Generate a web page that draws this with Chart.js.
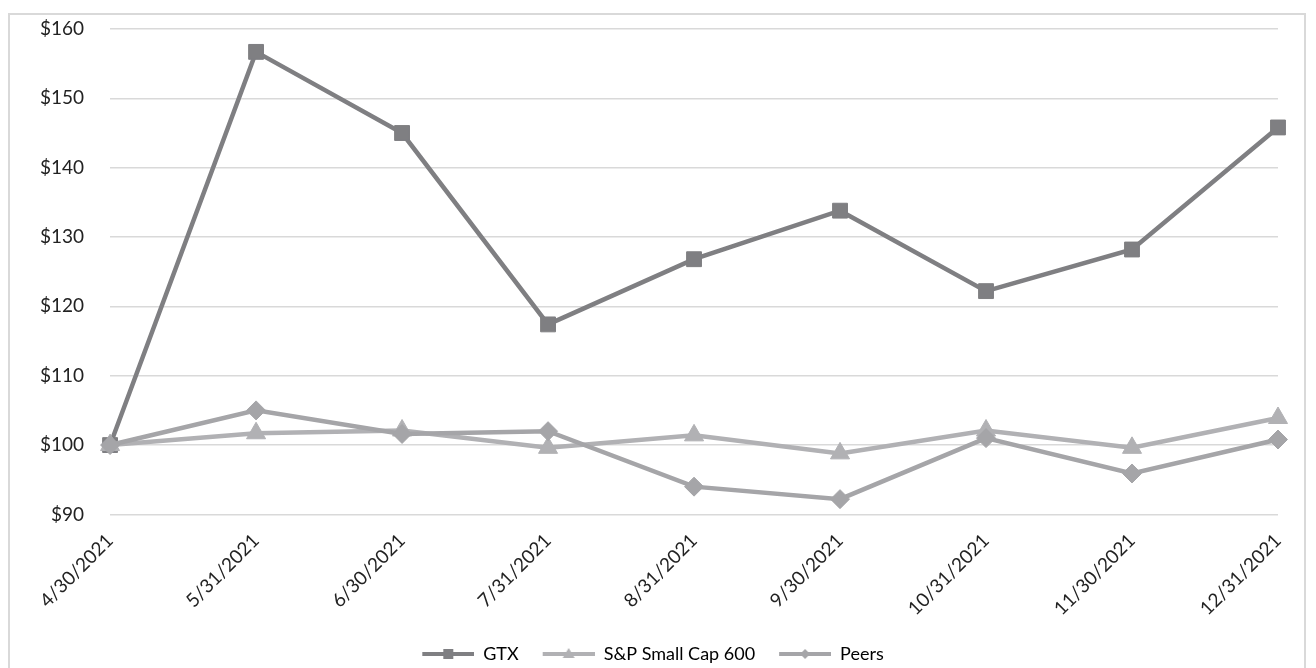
<!DOCTYPE html>
<html>
<head>
<meta charset="utf-8">
<script src="https://cdn.jsdelivr.net/npm/chart.js@4/dist/chart.umd.min.js"></script>
<style>
  html, body { margin: 0; padding: 0; background: #fff; }
  #wrap { position: relative; width: 1316px; height: 668px; overflow: hidden; }
  #frame { position: absolute; left: 8px; top: 13px; width: 1298px; height: 700px; border: 2px solid #d9d9d9; box-sizing: border-box; }
  #c { position: absolute; left: 0; top: 0; }
</style>
</head>
<body>
<div id="wrap">
  <div id="frame"></div>
  <canvas id="c" width="1316" height="668"></canvas>
</div>
<script>
const categories = ['4/30/2021', '5/31/2021', '6/30/2021', '7/31/2021', '8/31/2021', '9/30/2021', '10/31/2021', '11/30/2021', '12/31/2021'];
const gtx = [100, 156.7, 145.0, 117.4, 126.8, 133.8, 122.2, 128.2, 145.8];
const spSmallCap600 = [100, 101.7, 102.1, 99.6, 101.4, 98.8, 102.1, 99.6, 103.9];
const peers = [100, 105.0, 101.6, 102.0, 94.0, 92.2, 101.0, 95.9, 100.8];
const yTicks = [90, 100, 110, 120, 130, 140, 150, 160];

const FONT = 'Lato, "Open Sans", sans-serif';

const series = [
  { label: 'GTX', data: gtx, color: '#7f7f82', style: 'rect', radius: 10.5 },
  { label: 'S&P Small Cap 600', data: spSmallCap600, color: '#b1b1b4', style: 'triangle', radius: 11 },
  { label: 'Peers', data: peers, color: '#a5a5a8', style: 'rectRot', radius: 9.5 }
];

// Legend swatch: a short line segment with the marker in its middle,
// with some empty room on the left to space the entries apart
const SW = 66, LEAD = 14;
function swatch(color, style) {
  const cv = document.createElement('canvas');
  cv.width = SW; cv.height = 14;
  const g = cv.getContext('2d');
  const cx = LEAD + (SW - LEAD) / 2;
  g.strokeStyle = color; g.lineWidth = 4;
  g.beginPath(); g.moveTo(LEAD, 7); g.lineTo(SW, 7); g.stroke();
  g.fillStyle = color;
  g.beginPath();
  if (style === 'rect') {
    g.rect(cx - 5, 2, 10, 10);
  } else if (style === 'triangle') {
    g.moveTo(cx, 1); g.lineTo(cx + 6, 11); g.lineTo(cx - 6, 11); g.closePath();
  } else {
    g.moveTo(cx, 2); g.lineTo(cx + 5, 7); g.lineTo(cx, 12); g.lineTo(cx - 5, 7); g.closePath();
  }
  g.fill();
  return cv;
}

// Peers drawn first, GTX last (on top)
const datasets = series.slice().reverse().map(s => ({
  label: s.label,
  data: s.data,
  borderColor: s.color,
  backgroundColor: s.color,
  borderWidth: 4.5,
  pointStyle: s.style,
  pointRadius: s.radius,
  pointHoverRadius: s.radius,
  pointBackgroundColor: s.color,
  pointBorderColor: s.color,
  pointBorderWidth: 1,
  tension: 0,
  fill: false
}));

new Chart(document.getElementById('c'), {
  type: 'line',
  data: { labels: categories, datasets: datasets },
  options: {
    responsive: false,
    animation: false,
    layout: { padding: { left: 14, right: 38, top: 29, bottom: -5 } },
    plugins: {
      tooltip: { enabled: false },
      legend: {
        position: 'bottom',
        labels: {
          usePointStyle: true,
          pointStyleWidth: SW,
          boxHeight: 14,
          font: { family: FONT, size: 18 },
          color: '#222',
          padding: 10,
          generateLabels: () => series.map((s, i) => ({
            text: s.label,
            pointStyle: swatch(s.color, s.style),
            fillStyle: s.color,
            strokeStyle: s.color,
            lineWidth: 0,
            hidden: false,
            datasetIndex: series.length - 1 - i
          }))
        }
      }
    },
    scales: {
      x: {
        offset: false,
        grid: { display: false, drawTicks: false },
        border: { display: false },
        ticks: {
          minRotation: 45, maxRotation: 45,
          font: { family: FONT, size: 19 },
          color: '#222',
          padding: 15
        }
      },
      y: {
        min: 90, max: 160,
        afterBuildTicks: (axis) => { axis.ticks = yTicks.map(v => ({ value: v })); },
        afterFit: (axis) => { axis.paddingTop = 0; axis.paddingBottom = 0; },
        grid: { color: '#d9d9d9', lineWidth: 1.5, drawTicks: false },
        border: { display: false },
        ticks: {
          font: { family: FONT, size: 19 },
          color: '#222',
          padding: 26,
          callback: (v) => '$' + v
        }
      }
    }
  }
});
</script>
</body>
</html>
